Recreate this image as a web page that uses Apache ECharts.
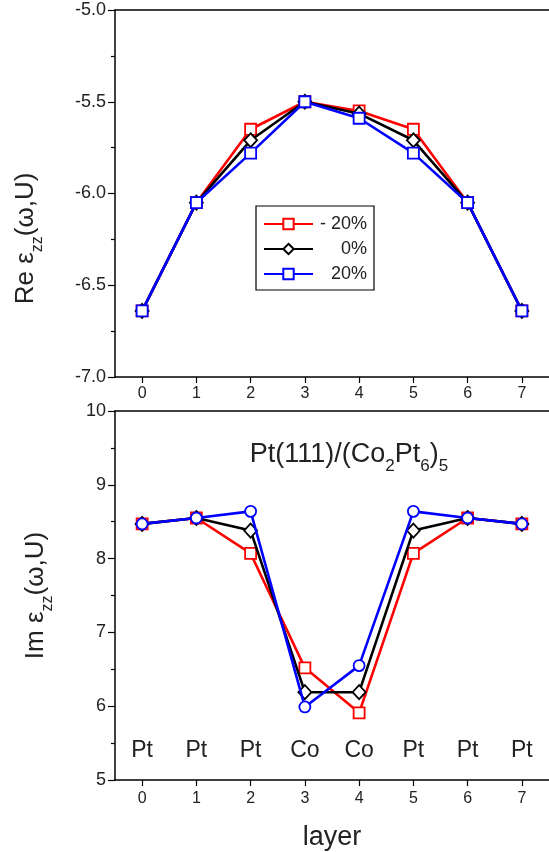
<!DOCTYPE html>
<html>
<head>
<meta charset="utf-8">
<script src="https://cdn.jsdelivr.net/npm/echarts@6/dist/echarts.min.js"></script>
<style>
    body { margin: 0; background: #fff; }
    #main { width: 549px; height: 852px; }
</style>
</head>
<body>
<div id="main"></div>
<script type="text/javascript">
    // layer index and the atom sitting in each layer
    var layers = ['0', '1', '2', '3', '4', '5', '6', '7'];
    var atoms = ['Pt', 'Pt', 'Pt', 'Co', 'Co', 'Pt', 'Pt', 'Pt'];
    var seriesNames = ['- 20%', '0%', '20%'];

    // Re eps_zz per layer
    var reMinus20 = [-6.64, -6.05, -5.65, -5.50, -5.55, -5.65, -6.05, -6.64];
    var reZero    = [-6.64, -6.05, -5.71, -5.50, -5.565, -5.71, -6.05, -6.64];
    var rePlus20  = [-6.64, -6.05, -5.78, -5.50, -5.59, -5.78, -6.05, -6.64];

    // Im eps_zz per layer
    var imMinus20 = [8.47, 8.55, 8.07, 6.52, 5.91, 8.07, 8.55, 8.47];
    var imZero    = [8.47, 8.55, 8.38, 6.19, 6.19, 8.38, 8.55, 8.47];
    var imPlus20  = [8.47, 8.55, 8.64, 5.99, 6.55, 8.64, 8.55, 8.47];

    var font = 'Liberation Sans, Arial, Helvetica, sans-serif';
    var txt = '#222';

    var chart = echarts.init(document.getElementById('main'));

    function xAxisBase(grid, pos) {
        return {
            type: 'category', gridIndex: grid, position: pos, data: layers,
            boundaryGap: true,
            axisLine: { show: true, lineStyle: { color: '#000', width: 1.5 } },
            axisTick: { show: pos === 'bottom', alignWithLabel: true, length: 6, lineStyle: { color: '#000', width: 1.2 } },
            axisLabel: { show: pos === 'bottom', color: txt, fontSize: 16, fontFamily: font, margin: 9 },
            splitLine: { show: false }
        };
    }

    function yAxisBase(grid, min, max, interval, fmt) {
        return {
            type: 'value', gridIndex: grid, min: min, max: max, interval: interval,
            axisLine: { show: true, lineStyle: { color: '#000', width: 1.5 } },
            axisTick: { show: true, length: 7, lineStyle: { color: '#000', width: 1.2 } },
            minorTick: { show: true, splitNumber: 2, length: 4, lineStyle: { color: '#000', width: 1.2 } },
            axisLabel: { color: txt, fontSize: 18, fontFamily: font, margin: 9, formatter: fmt },
            splitLine: { show: false },
            nameLocation: 'middle',
            nameRotate: 90,
            nameGap: 76,
            nameTextStyle: {
                color: txt, fontSize: 26, fontFamily: font,
                rich: { s: { fontSize: 16, fontFamily: font, color: txt, verticalAlign: 'bottom', padding: [0, 0, -7, 0] } }
            }
        };
    }

    var xTop = xAxisBase(0, 'bottom');
    var xTopBorder = xAxisBase(0, 'top');
    var xBot = xAxisBase(1, 'bottom');
    xBot.axisLabel.margin = 11;
    xBot.name = 'layer';
    xBot.nameLocation = 'middle';
    xBot.nameGap = 44;
    xBot.nameTextStyle = { color: txt, fontSize: 27, fontFamily: font };
    var xBotBorder = xAxisBase(1, 'top');
    var xAtoms = {
        type: 'category', gridIndex: 1, position: 'bottom', data: atoms,
        boundaryGap: true,
        axisLine: { show: false }, axisTick: { show: false }, splitLine: { show: false },
        axisLabel: { inside: true, margin: 18, color: txt, fontSize: 23, fontFamily: font }
    };

    var yTop = yAxisBase(0, -7, -5, 0.5, function (v) { return v.toFixed(1); });
    yTop.name = 'Re ε{s|zz}(ω,U)';
    yTop.nameTextStyle.padding = [0, 90, 0, 0];
    var yBot = yAxisBase(1, 5, 10, 1, function (v) { return String(v); });
    yBot.name = 'Im ε{s|zz}(ω,U)';
    yBot.nameGap = 66;

    var colors = ['#ff0000', '#000000', '#0000ff'];
    var topSymbols = ['rect', 'diamond', 'rect'];
    var botSymbols = ['rect', 'diamond', 'circle'];
    var topData = [reMinus20, reZero, rePlus20];
    var botData = [imMinus20, imZero, imPlus20];

    var series = [];
    seriesNames.forEach(function (name, i) {
        series.push({
            name: name, type: 'line', xAxisIndex: 0, yAxisIndex: 0,
            data: topData[i], symbol: topSymbols[i],
            symbolSize: topSymbols[i] === 'diamond' ? [13, 14] : 11,
            showAllSymbol: true,
            lineStyle: { color: colors[i], width: 2.6 },
            itemStyle: { color: '#fff', borderColor: colors[i], borderWidth: 1.8 },
            emphasis: { disabled: true }, z: 2 + i
        });
    });
    seriesNames.forEach(function (name, i) {
        series.push({
            name: name, type: 'line', xAxisIndex: 2, yAxisIndex: 1,
            data: botData[i], symbol: botSymbols[i],
            symbolSize: botSymbols[i] === 'diamond' ? [13, 14] : 11,
            showAllSymbol: true,
            lineStyle: { color: colors[i], width: 2.6 },
            itemStyle: { color: '#fff', borderColor: colors[i], borderWidth: 1.8 },
            emphasis: { disabled: true }, z: 2 + i
        });
    });

    var option = {
        animation: false,
        backgroundColor: '#fff',
        title: {
            text: 'Pt(111)/(Co{s|2}Pt{s|6}){s|5}',
            left: 344, top: 436, textAlign: 'center',
            textStyle: {
                color: txt, fontSize: 27, fontWeight: 'normal', fontFamily: font,
                rich: { s: { fontSize: 17, fontFamily: font, color: txt, verticalAlign: 'bottom', padding: [0, 0, -7, 0] } }
            }
        },
        legend: {
            data: seriesNames,
            orient: 'vertical',
            left: 256, top: 206,
            padding: [9, 7, 7, 7],
            itemGap: 7,
            itemWidth: 49, itemHeight: 13,
            borderColor: '#000', borderWidth: 1.2, borderRadius: 0,
            backgroundColor: '#fff',
            selectedMode: false,
            formatter: function (n) { return '{a|' + n + '}'; },
            textStyle: {
                color: txt, fontSize: 18, fontFamily: font,
                rich: { a: { width: 49, align: 'right', fontSize: 18, fontFamily: font, color: txt } }
            }
        },
        grid: [
            { left: 115, top: 10, width: 435, height: 367 },
            { left: 115, top: 411, width: 435, height: 369 }
        ],
        xAxis: [xTop, xTopBorder, xBot, xBotBorder, xAtoms],
        yAxis: [yTop, yBot],
        series: series
    };

    chart.setOption(option);
</script>
</body>
</html>
